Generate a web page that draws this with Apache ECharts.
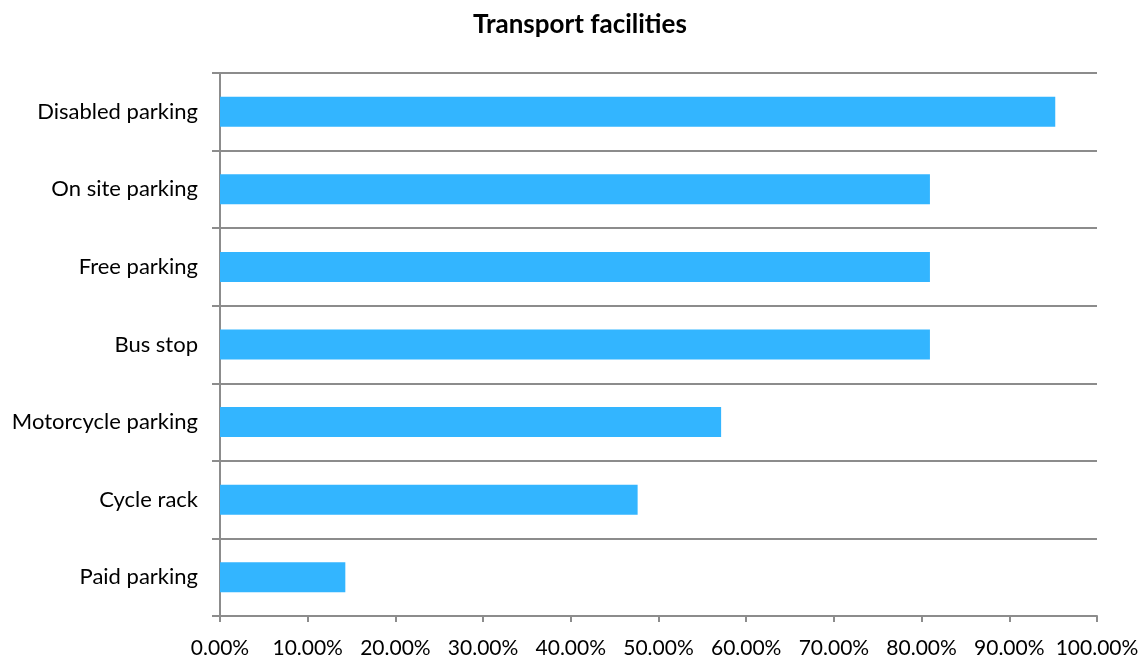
<!DOCTYPE html>
<html lang="en">
  <head>
    <meta charset="UTF-8" />
    <title>Transport facilities</title>
    <script src="https://cdn.jsdelivr.net/npm/echarts@6/dist/echarts.min.js"></script>
    <style>
      html, body { margin: 0; padding: 0; background: #fff; }
    </style>
  </head>
  <body>
    <div id="main" style="width: 1144px; height: 659px"></div>
    <script>
      const categories = [
        'Disabled parking',
        'On site parking',
        'Free parking',
        'Bus stop',
        'Motorcycle parking',
        'Cycle rack',
        'Paid parking'
      ];
      const shares = [95.24, 80.95, 80.95, 80.95, 57.14, 47.62, 14.29];
      const xTicks = [0, 10, 20, 30, 40, 50, 60, 70, 80, 90, 100];

      const gray = '#8c8c8c';
      const font = 'Lato, Calibri, "Noto Sans", sans-serif';

      const chart = echarts.init(document.getElementById('main'));
      chart.setOption({
        animation: false,
        title: {
          text: 'Transport facilities',
          left: 468,
          top: 7,
          textStyle: { fontFamily: font, fontSize: 26, fontWeight: 'bold', color: '#000' }
        },
        grid: { left: 220, right: 47, top: 73, bottom: 43, containLabel: false },
        xAxis: {
          type: 'value',
          min: xTicks[0],
          max: xTicks[xTicks.length - 1],
          interval: 10,
          axisLine: { show: true, lineStyle: { color: gray, width: 2 } },
          axisTick: { show: true, length: 6, lineStyle: { color: gray, width: 2 } },
          splitLine: { show: false },
          axisLabel: {
            margin: 22,
            color: '#000',
            fontFamily: font,
            fontSize: 21,
            formatter: v => v.toFixed(2) + '%'
          }
        },
        yAxis: {
          type: 'category',
          data: categories,
          inverse: true,
          axisLine: { show: true, lineStyle: { color: gray, width: 2 } },
          axisTick: { show: true, length: 8, lineStyle: { color: gray, width: 2 } },
          splitLine: { show: true, lineStyle: { color: gray, width: 2 } },
          axisLabel: { margin: 22, color: '#000', fontFamily: font, fontSize: 22 }
        },
        series: [
          {
            type: 'bar',
            data: shares,
            barWidth: 30,
            itemStyle: { color: '#33b5ff' }
          }
        ]
      });
    </script>
  </body>
</html>
